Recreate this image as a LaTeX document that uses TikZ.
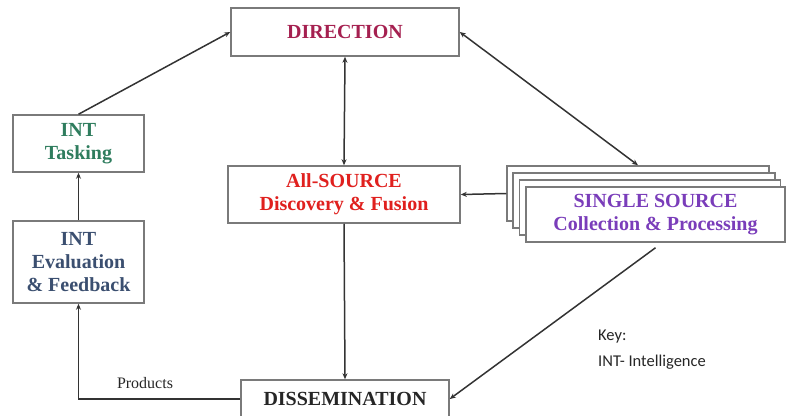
\documentclass[tikz,border=0pt]{standalone}
\usepackage{fontspec}
\setmainfont{Liberation Serif}
\newfontfamily\keyfont{Carlito}
\usetikzlibrary{arrows.meta}
\definecolor{dircol}{HTML}{A52050}
\definecolor{taskcol}{HTML}{2F7D5E}
\definecolor{allcol}{HTML}{E0201E}
\definecolor{sscol}{HTML}{7A3DBA}
\definecolor{evalcol}{HTML}{3B4F70}
\definecolor{boxline}{HTML}{7A7A7A}

\begin{document}
\begin{tikzpicture}[x=1pt,y=-1pt,
  main/.style = {draw=boxline, line width=1.5pt, fill=white, inner sep=0pt, align=center,
    font=\fontsize{20}{23}\selectfont\bfseries},
  arr/.style = {line width=1.5pt, draw=black!80, -{Stealth[length=6pt,width=5pt]}},
  arrb/.style = {line width=1.5pt, draw=black!80, {Stealth[length=6pt,width=5pt]}-{Stealth[length=6pt,width=5pt]}}]
\useasboundingbox (0,0) rectangle (792,415);
\node[main, minimum width=228pt, minimum height=48pt, text=dircol] (dir) at (345,32) {DIRECTION};
\node[main, minimum width=131pt, minimum height=57pt, text=taskcol] (task) at (78.5,143.5) {INT\\Tasking};
\node[main, minimum width=131pt, minimum height=82pt, text=evalcol] (eval) at (78.5,262) {INT\\Evaluation\\\& Feedback};
\node[main, minimum width=232pt, minimum height=57pt, text=allcol] (all) at (344,194.5) {All-SOURCE\\Discovery \& Fusion};
\node[main, minimum width=208pt, minimum height=38pt, text=black!85] (diss) at (345,399) {DISSEMINATION};
% stacked single source boxes
\node[main, minimum width=262pt, minimum height=55pt] (ss4) at (638,193.5) {};
\node[main, minimum width=262pt, minimum height=55pt] (ss3) at (644,200.5) {};
\node[main, minimum width=261pt, minimum height=55pt] (ss2) at (650,207.5) {};
\node[main, minimum width=259pt, minimum height=55pt, text=sscol] (ss1) at (655.5,214.5) {SINGLE SOURCE\\Collection \& Processing};
\draw[arr] (task.north) -- (dir.west);
\draw[arr] (eval.north) -- (task.south);
\draw[arrb] (dir.south) -- (all.north);
\draw[arrb] (dir.east) -- (ss4.north);
\draw[arr] (ss4.west) -- (all.east);
\draw[arr] (all.south) -- (diss.north);
\draw[arr] ([yshift=-5pt]ss1.south) -- (diss.east);
\draw[arr] (diss.west) -| (eval.south);
\node[font=\fontsize{16}{18}\selectfont, text=black!85] (prod) at (145,383) {Products};
\node[anchor=west, inner sep=0pt, text=black!85, font=\keyfont\fontsize{16.5}{18}\selectfont] (key) at (598,337) {Key:};
\node[anchor=west, inner sep=0pt, text=black!85, font=\keyfont\fontsize{16.5}{18}\selectfont] (int) at (598,362) {INT- Intelligence};
\end{tikzpicture}
\end{document}
